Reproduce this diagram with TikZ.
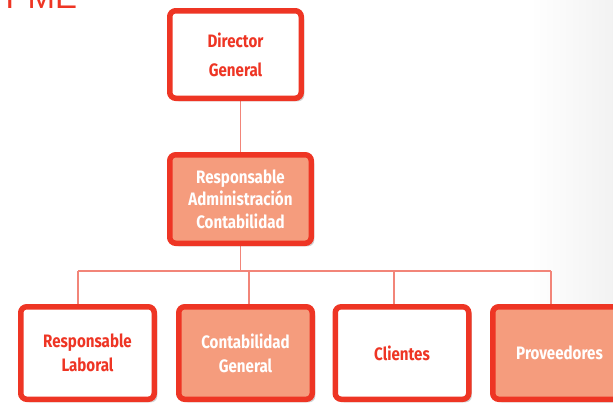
\documentclass[tikz,border=0pt]{standalone}
\usepackage{fontspec}
\setmainfont{Fira Sans}[FakeStretch=0.84]
\newfontfamily\titlefont{Liberation Sans}
\usetikzlibrary{shadows,backgrounds}
\definecolor{boxred}{HTML}{EE3524}
\definecolor{salmon}{HTML}{F59C7D}
\definecolor{linkred}{HTML}{F28579}
\begin{document}
\begin{tikzpicture}[x=1pt,y=-1pt,
  box/.style={draw=boxred, line width=5.5pt, rounded corners=6pt, align=center,
    inner sep=0pt, minimum width=133.5pt, minimum height=92.5pt,
    font=\fontsize{18}{24}\selectfont\bfseries,
    drop shadow={opacity=0.25, shadow xshift=3pt, shadow yshift=-3pt, fill=black!70}},
  wbox/.style={box, fill=white, text=boxred},
  sbox/.style={box, fill=salmon, text=white},
  link/.style={draw=linkred, line width=1.1pt}]
\useasboundingbox (0,0) rectangle (613,402);
\clip (0,0) rectangle (613,402);
\node[anchor=base west, text=boxred, inner sep=0pt,
  font=\titlefont\fontsize{33}{33}\selectfont] (title) at (5.5,8) {PME};
\node[wbox, minimum width=131.5pt, minimum height=87.5pt,
  font=\fontsize{18}{29}\selectfont\bfseries] (dir) at (235.5,54.5) {Director\\General};
\node[sbox, minimum width=141.5pt, minimum height=88.5pt,
  font=\fontsize{18}{22.5}\selectfont\bfseries] (adm) at (240.5,199) {Responsable\\Administración\\Contabilidad};
\node[wbox] (b1) at (87.5,353) {Responsable\\Laboral};
\node[sbox] (b2) at (245.5,353) {Contabilidad\\General};
\node[wbox] (b3) at (402,353) {Clientes};
\node[sbox] (b4) at (559.5,353) {Proveedores};
\coordinate (t1) at (78,271);
\coordinate (t2) at (249,271);
\coordinate (t3) at (394,271);
\coordinate (t4) at (551,271);
\begin{pgfonlayer}{background}
\shade[left color=white, right color=black!5] (530,0) rectangle (613,402);
\draw[link] (adm.north) -- (adm.north |- dir.south);
\draw[link] (adm.south) -- (adm.south |- t1);
\draw[link] (t1) -- (t4);
\draw[link] (t1) -- (t1 |- b1.north);
\draw[link] (t2) -- (t2 |- b2.north);
\draw[link] (t3) -- (t3 |- b3.north);
\draw[link] (t4) -- (t4 |- b4.north);
\end{pgfonlayer}
\end{tikzpicture}
\end{document}
